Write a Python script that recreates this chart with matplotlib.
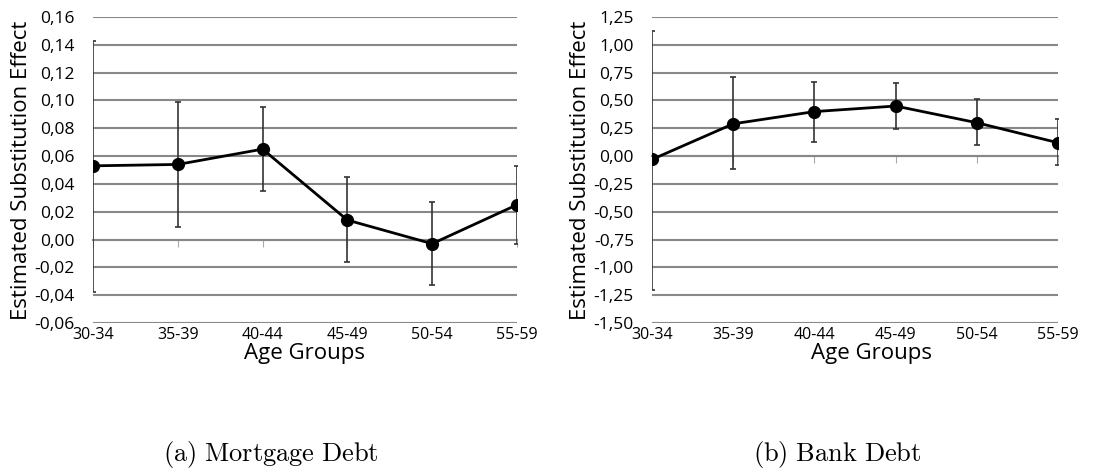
import numpy as np
import matplotlib
matplotlib.use("Agg")
from matplotlib import pyplot as plt

plt.rcParams["font.family"] = ["Open Sans", "DejaVu Sans"]
plt.rcParams["mathtext.fontset"] = "cm"

age_groups = ["30-34", "35-39", "40-44", "45-49", "50-54", "55-59"]

# Mortgage debt: estimate and confidence band ends
mort_est = [0.053, 0.054, 0.065, 0.014, -0.003, 0.025]
mort_hi = [0.143, 0.099, 0.095, 0.045, 0.027, 0.053]
mort_lo = [-0.038, 0.009, 0.035, -0.016, -0.033, -0.003]
mort_yticks = [-0.06, -0.04, -0.02, 0.00, 0.02, 0.04, 0.06, 0.08, 0.10, 0.12, 0.14, 0.16]

# Bank debt
bank_est = [-0.03, 0.29, 0.40, 0.45, 0.30, 0.12]
bank_hi = [1.12, 0.71, 0.67, 0.66, 0.51, 0.33]
bank_lo = [-1.20, -0.12, 0.13, 0.24, 0.10, -0.08]
bank_yticks = [-1.50, -1.25, -1.00, -0.75, -0.50, -0.25, 0.00, 0.25, 0.50, 0.75, 1.00, 1.25]

captions = [r"$\mathrm{(a)\ Mortgage\ Debt}$", r"$\mathrm{(b)\ Bank\ Debt}$"]

fig = plt.figure(figsize=(10.99, 4.71), dpi=100)
ax1 = fig.add_axes([0.0846, 0.3142, 0.3858, 0.6497])
ax2 = fig.add_axes([0.5933, 0.3142, 0.3694, 0.6497])

grid_col = "#888888"


def draw(ax, est, hi, lo, yticks, xlab_x):
    x = np.arange(len(age_groups))
    est = np.array(est)
    yerr = [est - np.array(lo), np.array(hi) - est]
    ax.errorbar(x, est, yerr=yerr, fmt="none", ecolor="#333333",
                elinewidth=1.2, capsize=2, capthick=1.2, zorder=3)
    ax.plot(x, est, color="black", lw=2, marker="o", markersize=8.5, zorder=4)

    ax.set_xlim(0, len(age_groups) - 1)
    ax.set_ylim(yticks[0], yticks[-1])
    ax.set_yticks(yticks)
    ax.set_yticklabels([f"{v:.2f}".replace(".", ",") for v in yticks])
    ax.tick_params(axis="y", length=0, labelsize=12.5, pad=13)
    ax.grid(axis="y", color=grid_col, lw=1.5)
    ax.set_axisbelow(True)

    for s in ["top", "right", "left"]:
        ax.spines[s].set_visible(False)
    ax.spines["bottom"].set_position(("data", 0))
    ax.spines["bottom"].set_color(grid_col)
    ax.spines["bottom"].set_linewidth(1.5)
    ax.set_xticks(x)
    ax.tick_params(axis="x", direction="out", length=5, color="#aaaaaa",
                   labelbottom=False)

    sec = ax.secondary_xaxis("bottom")
    sec.set_xticks(x, age_groups)
    sec.tick_params(length=0, labelsize=11.5, pad=3)
    sec.spines["bottom"].set_visible(False)

    ax.text(xlab_x, -0.098, "Age Groups", transform=ax.transAxes,
            ha="center", va="center", fontsize=16)
    ax.set_ylabel("Estimated Substitution Effect", fontsize=16, labelpad=2)


draw(ax1, mort_est, mort_hi, mort_lo, mort_yticks, 0.5)
draw(ax2, bank_est, bank_hi, bank_lo, bank_yticks, 0.54)

fig.text(271 / 1099, 1 - 455 / 471, captions[0], ha="center", va="center", fontsize=19)
fig.text(837 / 1099, 1 - 455 / 471, captions[1], ha="center", va="center", fontsize=19)

fig.savefig("out.png", dpi=100)
